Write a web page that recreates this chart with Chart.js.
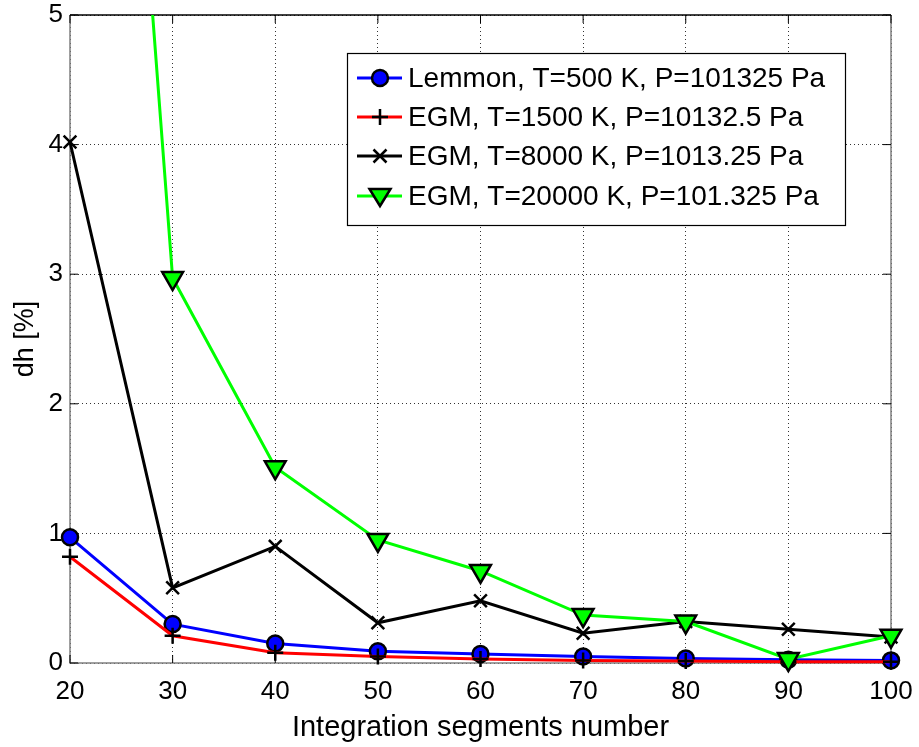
<!DOCTYPE html>
<html><head><meta charset="utf-8">
<script src="https://cdn.jsdelivr.net/npm/chart.js@4/dist/chart.umd.min.js"></script>
<style>html,body{margin:0;padding:0;background:#fff}#wrap{width:919px;height:747px}</style>
</head><body><div id="wrap"><canvas id="c" width="919" height="747"></canvas></div>
<script>
const segments = [20, 30, 40, 50, 60, 70, 80, 90, 100];
const lemmon500 = [0.97, 0.30, 0.15, 0.09, 0.07, 0.05, 0.035, 0.025, 0.02];
const egm1500 = [0.82, 0.21, 0.08, 0.05, 0.03, 0.02, 0.015, 0.01, 0.01];
const egm8000 = [4.02, 0.58, 0.90, 0.31, 0.48, 0.23, 0.32, 0.26, 0.20];
const egm20000 = [13.4, 2.97, 1.51, 0.95, 0.71, 0.37, 0.32, 0.03, 0.21];
const labels = ["Lemmon, T=500 K, P=101325 Pa","EGM, T=1500 K, P=10132.5 Pa","EGM, T=8000 K, P=1013.25 Pa","EGM, T=20000 K, P=101.325 Pa"];
const yTicks = [0,1,2,3,4,5];
const xTicks = [20,30,40,50,60,70,80,90,100];

const pts = a => a.map((v,i)=>({x:segments[i],y:v}));
const FONT = "'Liberation Sans', Arial, sans-serif";
const CLIP = {left:15, right:15, top:0, bottom:15};

const boxPlugin = {
  id:'box',
  beforeDatasetsDraw(chart){
    const {ctx, chartArea:a} = chart;
    ctx.save();
    ctx.lineWidth = 1.5;
    ctx.strokeStyle = '#808080';
    ctx.beginPath();
    ctx.moveTo(a.left, a.top); ctx.lineTo(a.left, a.bottom); ctx.lineTo(a.right, a.bottom); ctx.lineTo(a.right, a.top);
    ctx.stroke();
    ctx.strokeStyle = '#000';
    ctx.beginPath(); ctx.moveTo(a.left, a.top); ctx.lineTo(a.right, a.top); ctx.stroke();
    ctx.strokeStyle = '#000'; ctx.lineWidth = 1;
    const xs = chart.scales.x, ys = chart.scales.y;
    xTicks.forEach(t=>{const px=xs.getPixelForValue(t); ctx.beginPath(); ctx.moveTo(px,a.bottom); ctx.lineTo(px,a.bottom-8); ctx.moveTo(px,a.top); ctx.lineTo(px,a.top+8); ctx.stroke();});
    yTicks.forEach(t=>{const py=ys.getPixelForValue(t); ctx.beginPath(); ctx.moveTo(a.left,py); ctx.lineTo(a.left+8,py); ctx.moveTo(a.right,py); ctx.lineTo(a.right-8,py); ctx.stroke();});
    ctx.restore();
  }
};

const legendPlugin = {
  id:'mlegend',
  afterDraw(chart){
    const ctx = chart.ctx;
    const L=347, T=53, W=498, H=172;
    ctx.save();
    ctx.fillStyle='#fff'; ctx.fillRect(L,T,W,H);
    ctx.strokeStyle='#000'; ctx.lineWidth=1.2; ctx.strokeRect(L+0.5,T+0.5,W,H);
    ctx.font = "28px " + FONT; ctx.textBaseline='middle';
    const rows=[T+25,T+64,T+103,T+143];
    chart.data.datasets.forEach((ds,i)=>{
      const y=rows[i];
      ctx.strokeStyle=ds.borderColor; ctx.lineWidth=3;
      ctx.beginPath(); ctx.moveTo(L+10,y); ctx.lineTo(L+55,y); ctx.stroke();
      const cx=L+33;
      ctx.lineWidth=2.5; ctx.strokeStyle='#000'; ctx.fillStyle=ds.pointBackgroundColor;
      if(ds.pointStyle==='circle'){ctx.beginPath(); ctx.arc(cx,y,8,0,Math.PI*2); ctx.fill(); ctx.stroke();}
      else if(ds.pointStyle==='cross'){ctx.beginPath(); ctx.moveTo(cx-8,y); ctx.lineTo(cx+8,y); ctx.moveTo(cx,y-8); ctx.lineTo(cx,y+8); ctx.stroke();}
      else if(ds.pointStyle==='crossRot'){ctx.beginPath(); ctx.moveTo(cx-6.5,y-6.5); ctx.lineTo(cx+6.5,y+6.5); ctx.moveTo(cx+6.5,y-6.5); ctx.lineTo(cx-6.5,y+6.5); ctx.stroke();}
      else {ctx.beginPath(); ctx.moveTo(cx-10.5,y-7); ctx.lineTo(cx+10.5,y-7); ctx.lineTo(cx,y+10); ctx.closePath(); ctx.fill(); ctx.stroke();}
      ctx.fillStyle='#000';
      ctx.fillText(ds.label, L+61, y+1);
    });
    ctx.restore();
  }
};

new Chart(document.getElementById('c'), {
  type:'line',
  data:{datasets:[
    {label:labels[0], data:pts(lemmon500), order:4, clip:CLIP, borderColor:'#0000ff', borderWidth:3, pointStyle:'circle', pointRadius:8, pointBackgroundColor:'#0000ff', pointBorderColor:'#000', pointBorderWidth:2.5},
    {label:labels[1], data:pts(egm1500), order:3, clip:CLIP, borderColor:'#ff0000', borderWidth:3, pointStyle:'cross', pointRadius:8, pointBackgroundColor:'#000', pointBorderColor:'#000', pointBorderWidth:2.5},
    {label:labels[2], data:pts(egm8000), order:2, clip:CLIP, borderColor:'#000000', borderWidth:3, pointStyle:'crossRot', pointRadius:9, pointBackgroundColor:'#000', pointBorderColor:'#000', pointBorderWidth:2.5},
    {label:labels[3], data:pts(egm20000), order:1, clip:CLIP, borderColor:'#00ff00', borderWidth:3, pointStyle:'triangle', rotation:180, pointRadius:12, pointBackgroundColor:'#00ff00', pointBorderColor:'#000', pointBorderWidth:2.5}
  ]},
  options:{
    responsive:false, animation:false,
    layout:{padding:{left:9,right:28,top:15,bottom:2}},
    plugins:{legend:{display:false}, tooltip:{enabled:false}},
    elements:{line:{tension:0}},
    scales:{
      x:{type:'linear', min:20, max:100,
        afterBuildTicks(s){s.ticks = xTicks.map(v=>({value:v}));},
        afterFit(s){s.height = 82; s.paddingLeft=0; s.paddingRight=0;},
        grid:{color:'#333', lineWidth:1, drawTicks:false},
        border:{display:false, dash:[1,3]},
        ticks:{color:'#000', font:{family:FONT,size:26}, padding:13, maxRotation:0},
        title:{display:true, text:'Integration segments number', color:'#000', font:{family:FONT,size:29}, padding:{top:0,bottom:0}}
      },
      y:{min:0, max:5,
        afterBuildTicks(s){s.ticks = yTicks.map(v=>({value:v}));},
        afterFit(s){s.width = 61; s.paddingTop=0; s.paddingBottom=0;},
        grid:{color:'#333', lineWidth:1, drawTicks:false},
        border:{display:false, dash:[1,3]},
        ticks:{color:'#000', font:{family:FONT,size:26}, padding:7},
        title:{display:true, text:'dh [%]', color:'#000', font:{family:FONT,size:27}, padding:{top:0,bottom:0}}
      }
    }
  },
  plugins:[boxPlugin, legendPlugin]
});
</script></body></html>
